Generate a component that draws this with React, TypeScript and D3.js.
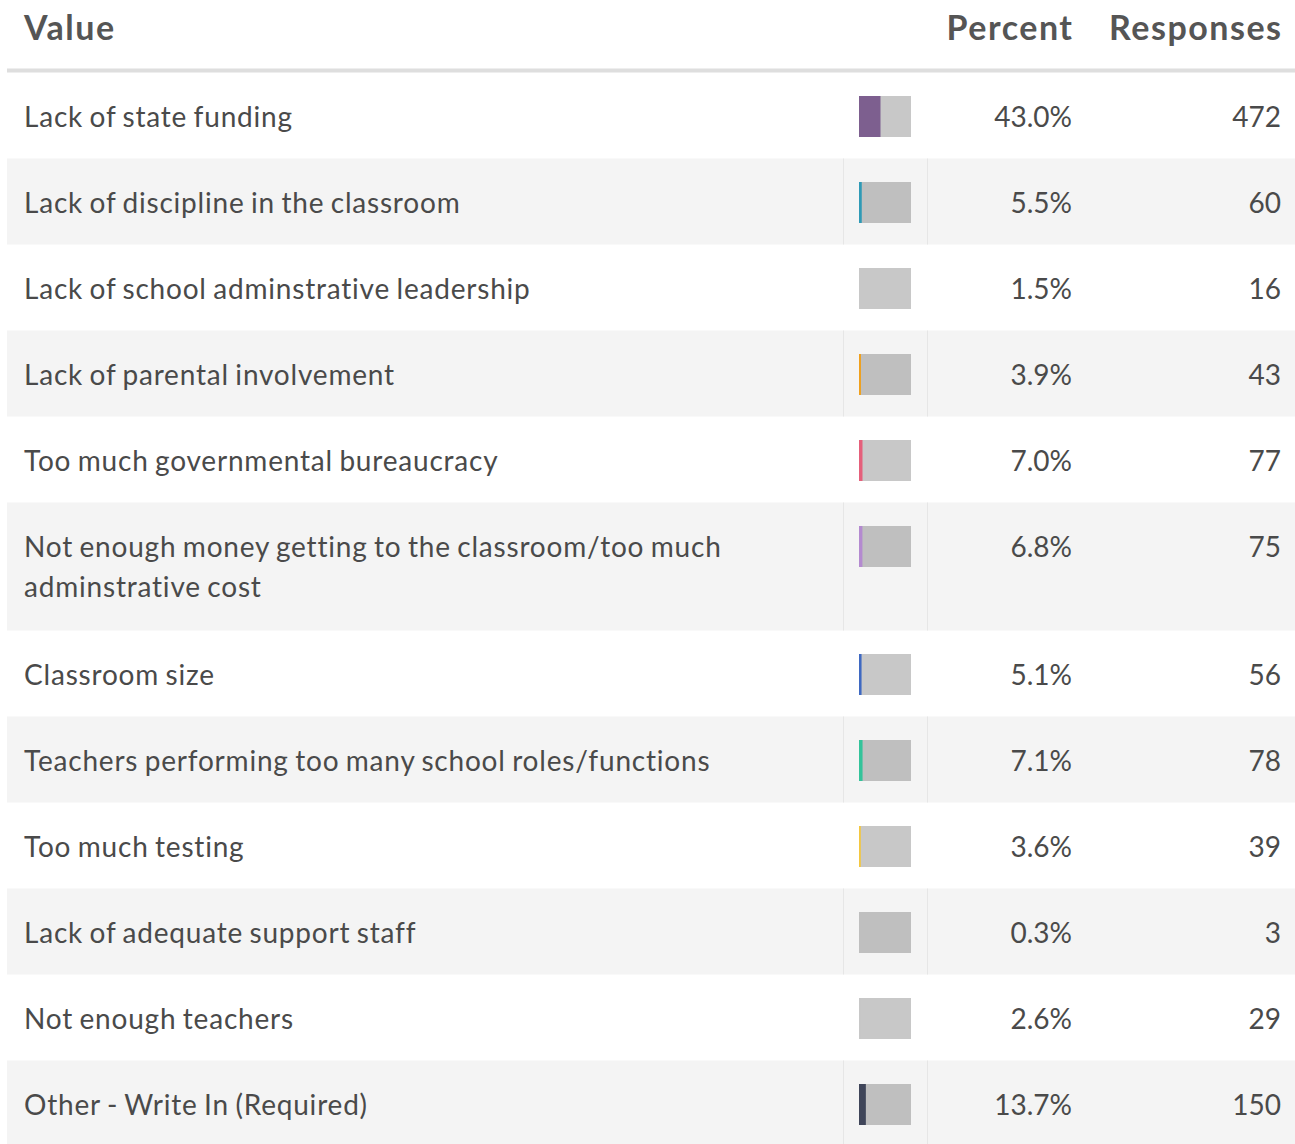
import React from "react";
import * as d3 from "d3";

const categories = [
  "Lack of state funding",
  "Lack of discipline in the classroom",
  "Lack of school adminstrative leadership",
  "Lack of parental involvement",
  "Too much governmental bureaucracy",
  "Not enough money getting to the classroom/too much adminstrative cost",
  "Classroom size",
  "Teachers performing too many school roles/functions",
  "Too much testing",
  "Lack of adequate support staff",
  "Not enough teachers",
  "Other - Write In (Required)",
];
const percents = [43.0, 5.5, 1.5, 3.9, 7.0, 6.8, 5.1, 7.1, 3.6, 0.3, 2.6, 13.7];
const responses = [472, 60, 16, 43, 77, 75, 56, 78, 39, 3, 29, 150];
const colors = [
  "#7d5f8f", "#2f9ab6", "#c8c8c8", "#f0a01c", "#e5607b", "#b48ad0",
  "#3f69c2", "#33c39a", "#f4c73f", "#c0c0c0", "#c8c8c8", "#3f4559",
];
const headers = ["Value", "Percent", "Responses"];

const W = 1295;
const H = 1144;
const FONT = "Lato, 'Noto Sans', sans-serif";
const FS = 28;
const LINE_H = 40;
const TEXT_MAX = 760;
const LS = 0.8;
const WS = -1.5;
const HLS = 1.5;

function wrap(text: string, maxW: number): string[] {
  const canvas = document.createElement("canvas");
  const ctx = canvas.getContext("2d")!;
  ctx.font = `${FS}px Lato`;
  const words = text.split(" ");
  const lines: string[] = [];
  let cur = "";
  for (const w of words) {
    const t = cur ? cur + " " + w : w;
    const width = ctx.measureText(t).width + t.length * LS;
    if (width > maxW && cur) {
      lines.push(cur);
      cur = w;
    } else cur = t;
  }
  if (cur) lines.push(cur);
  return lines;
}

export default function App() {
  const rows = categories.map((c, i) => ({
    label: c,
    lines: wrap(c, TEXT_MAX),
    pct: percents[i],
    resp: responses[i],
    color: colors[i],
  }));
  const tableTop = 72.5;
  const singleH = 86;
  const extraH = 42;
  const tops: number[] = [];
  let y = tableTop;
  const heights = rows.map((r) => singleH + (r.lines.length - 1) * extraH);
  heights.forEach((h) => {
    tops.push(y);
    y += h;
  });

  const barX = 859;
  const barW = 52;
  const barH = 41;
  const xPct = d3.scaleLinear().domain([0, 100]).range([0, 50]);
  const fmtPct = (v: number) => d3.format(".1f")(v) + "%";

  return (
    <svg
      width={W}
      height={H}
      style={{ position: "absolute", left: 0, top: 0, fontFamily: FONT }}
    >
      <rect x={0} y={0} width={W} height={H} fill="#ffffff" />
      <g fill="#555555" fontWeight={700} fontSize={34} letterSpacing={HLS}>
        <text x={24} y={40}>{headers[0]}</text>
        <text x={1072 + HLS} y={40} textAnchor="end">{headers[1]}</text>
        <text x={1281 + HLS} y={40} textAnchor="end">{headers[2]}</text>
      </g>
      <rect x={7} y={68.5} width={W - 7} height={4} fill="#dedede" />
      {rows.map((r, i) => {
        const top = tops[i];
        const h = heights[i];
        const striped = i % 2 === 1;
        return (
          <g key={i}>
            {striped && (
              <>
                <rect x={7} y={top} width={W - 7} height={h} fill="#f4f4f4" />
                <rect x={843} y={top} width={1} height={h} fill="#e6e6e6" />
                <rect x={927} y={top} width={1} height={h} fill="#e6e6e6" />
              </>
            )}
            <rect
              x={barX}
              y={top + 23.5}
              width={barW}
              height={barH}
              fill="#000000"
              fillOpacity={0.215}
            />
            <rect
              x={barX}
              y={top + 23.5}
              width={xPct(r.pct)}
              height={barH}
              fill={r.color}
            />
            <g fill="#4a4a4a" fontSize={FS}>
              {r.lines.map((ln, k) => (
                <text
                  key={k}
                  x={24}
                  y={top + 54 + k * LINE_H}
                  letterSpacing={LS}
                  wordSpacing={WS}
                >
                  {ln}
                </text>
              ))}
              <text x={1072} y={top + 54} textAnchor="end">
                {fmtPct(r.pct)}
              </text>
              <text x={1281} y={top + 54} textAnchor="end">
                {r.resp}
              </text>
            </g>
          </g>
        );
      })}
    </svg>
  );
}
